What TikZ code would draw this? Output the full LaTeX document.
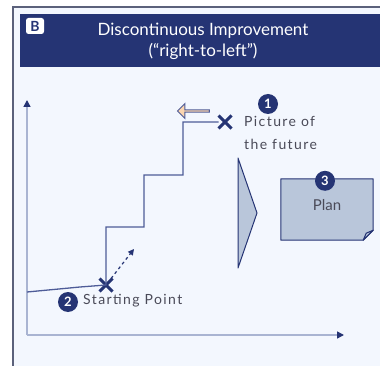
\documentclass[tikz,border=0pt]{standalone}
\usepackage{fontspec}
\setmainfont{Lato}
\newfontfamily\lblfont[LetterSpace=10]{Lato}
\usetikzlibrary{arrows.meta,shapes.arrows,shapes.misc}

\definecolor{navy}{HTML}{253474}
\definecolor{panelbg}{HTML}{F3F7FE}
\definecolor{stepcol}{HTML}{4E5C98}
\definecolor{axiscol}{HTML}{A9B4D2}
\definecolor{shapefill}{HTML}{B9C6DA}
\definecolor{peach}{HTML}{FCD6B0}
\definecolor{txtgray}{HTML}{4A4A58}

\tikzset{
  badge/.style={circle,fill=navy,text=white,font=\bfseries\fontsize{13}{13}\selectfont,
    minimum size=20pt,inner sep=0pt},
  xmark/.style={cross out,draw=navy,line width=3pt,minimum size=10pt,inner sep=0pt},
  axis/.style={draw=axiscol,line width=1.4pt,-{Triangle[length=7pt,width=7pt,color=navy]}},
  stepline/.style={draw=stepcol,line width=1.3pt},
  lbl/.style={text=txtgray,font=\lblfont\fontsize{14}{23}\selectfont,inner sep=0pt},
  shapebox/.style={fill=shapefill,draw=navy,line width=1pt,line join=round}
}

\begin{document}
\begin{tikzpicture}[x=1pt,y=-1pt]
  % Panel and header
  \useasboundingbox (0,0) rectangle (380,366);
  \fill[white] (0,0) rectangle (380,366);
  \fill[panelbg] (13,7) rectangle (380,366);
  \draw[gray!60!navy,line width=1.2pt] (13,366) -- (13,7) -- (380,7);
  \fill[navy] (20,14) rectangle (380,67);
  \node[rounded corners=2.5pt,fill=white,text=navy,font=\bfseries\fontsize{14}{14}\selectfont,
    minimum width=18pt,minimum height=16pt,inner sep=0pt] (tag) at (35,26) {B};
  \node[text=white,font=\fontsize{17}{17}\selectfont] (title) at (203,31) {Discontinuous Improvement};
  \node[text=white,font=\fontsize{17}{17}\selectfont] (subtitle) at (203,51) {(``right-to-left'')};

  % Axes
  \coordinate (O) at (27,335);
  \coordinate (ytop) at (27,100);
  \coordinate (xend) at (344,335);
  \draw[axis] (O) -- (ytop);
  \draw[axis] (O) -- (xend);

  % Nodes: start and goal of the stairs
  \node[xmark] (start) at (106,285) {};
  \node[xmark] (goal) at (225,122) {};
  \coordinate (s0) at (27,292);
  \coordinate (dashend) at (134,249);

  % Staircase
  \draw[stepline] (s0) -- (80,287) -- (start.center) |- (144,227) |- (183,175) |- (goal.west);
  \draw[navy,line width=1.2pt,dashed,dash pattern=on 3pt off 3pt,-{Triangle[length=6pt,width=6pt]}]
    (start) -- (dashend);

  % Back arrow
  \node[single arrow,shape border rotate=180,fill=peach,draw=stepcol,line width=1pt,
    minimum width=15pt,minimum height=32pt,single arrow head extend=3pt,inner sep=0pt]
    (back) at (194,111) {};

  % Labels
  \node[badge] (b1) at (268,104) {1};
  \node[lbl,anchor=west,align=left] (future) at (244,133) {Picture of\\the future};
  \node[badge] (b2) at (68,302) {2};
  \node[lbl,anchor=west] (startlbl) at (83,301) {Starting Point};

  % Chevron
  \coordinate (c1) at (238,158);
  \coordinate (c2) at (257,213);
  \coordinate (c3) at (238,268);
  \filldraw[shapebox] (c1) -- (c2) -- (c3) -- cycle;

  % Plan sheet
  \node[minimum width=92pt,minimum height=61pt,inner sep=0pt] (plan) at (327,209.5) {};
  \filldraw[shapebox] (plan.north west) -- (plan.north east) -- ([yshift=10pt]plan.south east)
    -- ([xshift=-10pt]plan.south east) -- (plan.south west) -- cycle;
  \filldraw[shapebox] ([yshift=10pt]plan.south east) -- ([xshift=-7pt,yshift=7pt]plan.south east)
    -- ([xshift=-10pt]plan.south east) -- cycle;
  \node[text=txtgray,font=\fontsize{15}{15}\selectfont] (planlbl) at ([yshift=4pt]plan.center) {Plan};
  \node[badge] (b3) at ([xshift=-2pt,yshift=-2pt]plan.north) {3};
\end{tikzpicture}
\end{document}
